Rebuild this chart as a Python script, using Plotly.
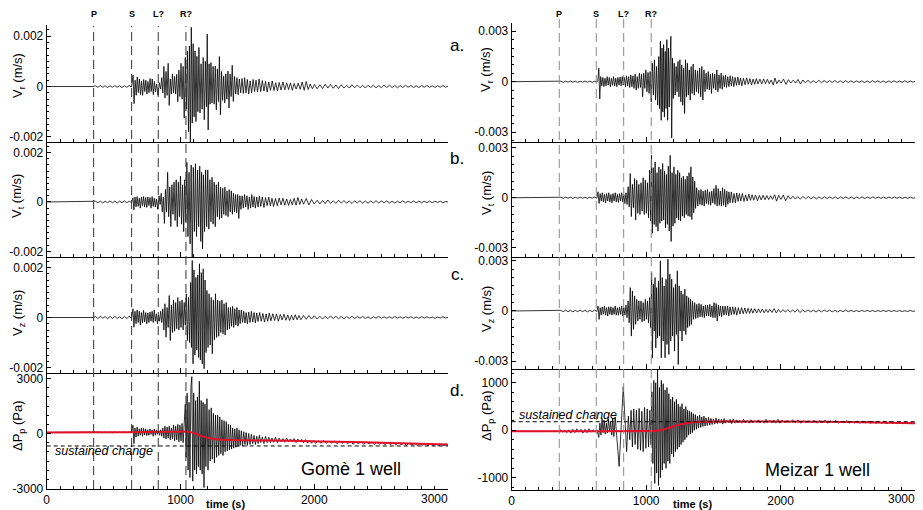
import plotly.graph_objects as go

W, H = 923, 510

# ---------------- data ----------------
# velocity traces in units of 1e-4 m/s, pressure traces in Pa; (time s, value) extrema
PHASE_LABELS = ["P", "S", "L?", "R?"]
GOME_PHASES = [351, 635, 834, 1041]
MEIZAR_PHASES = [354, 629, 833, 1038]

GOME_VR = [(0,0),(350,0),(365,.3),(383,-.3),(401,.4),(419,-.3),(437,.3),(455,-.4),(473,.3),(491,-.3),(509,.4),(527,-.3),(545,.3),(563,-.4),(581,.3),(599,-.3),(617,.4),(634,-.2),
(646,4.5),(653,-6.8),(661,2.5),(669,-3.5),(677,3.8),(685,-2.4),(693,3.0),(701,-3.2),(709,2.2),(717,-3.5),(725,2.8),(733,-2.0),(741,2.5),(749,-3.0),(757,2.0),(765,-2.5),(773,3.2),(781,-2.0),(789,3.0),(797,-3.2),(805,2.0),(813,-2.2),(822,1.0),(832,-3.5),(842,1.5),(852,-1.0),(860,3.5),(868,-2.5),(876,8.0),(884,-4.5),(892,6.0),(900,-3.5),(908,9.2),(916,-7.5),(924,3.0),(932,-3.0),(940,5.0),(948,-2.5),(956,4.0),(964,-3.0),(972,4.8),(980,-6.0),(988,6.5),(996,-4.0),(1004,9.2),(1012,-5.0),(1020,8.0),(1028,-12.5),(1036,11.5),(1044,-9.0),(1052,14.0),(1060,-17.9),(1067,16.1),(1074,-22.0),(1081,23.5),(1088,-14.5),(1095,17.0),(1102,-12.0),(1109,14.1),(1116,-13.9),(1123,12.0),(1130,-10.0),(1138,15.5),(1146,-10.5),(1154,9.0),(1162,-9.0),(1170,11.5),(1178,-13.2),(1186,10.0),(1194,-8.0),(1200,20.8),(1207,-17.2),(1214,9.0),(1221,-7.0),(1228,9.5),(1236,-6.5),(1244,8.0),(1252,-7.0),(1260,8.1),(1268,-9.2),(1276,7.0),(1284,-6.0),(1291,11.9),(1299,-11.2),(1307,6.0),(1315,-5.5),(1323,4.1),(1331,-6.5),(1339,5.0),(1347,-5.0),(1355,6.1),(1363,-8.5),(1371,5.0),(1379,-4.0),(1387,8.4),(1395,-5.9),(1404,4.0),(1413,-3.0),(1422,3.5),(1431,-3.2),(1440,3.0),(1450,-2.5),(1460,3.2),(1470,-2.8),(1480,3.5),(1490,-2.5),(1500,2.8),(1510,-3.0),(1521,2.2),(1532,-2.5),(1543,2.8),(1554,-2.0),(1565,2.5),(1576,-2.2),(1588,3.0),(1600,-2.0),(1612,2.4),(1624,-1.8),(1636,2.0),(1648,-2.2),(1660,1.8),(1673,-1.5),(1686,2.2),(1699,-1.6),(1712,1.5),(1725,-1.8),(1738,1.6),(1752,-1.4),(1766,1.8),(1780,-1.3),(1794,1.5),(1808,-1.2),(1822,1.4),(1836,-1.5),(1850,1.2),(1865,-1.0),(1880,1.3),(1895,-1.1),(1910,1.8),(1925,-1.5),(1940,2.0),(1955,-1.2),(1970,1.0),(1986,-0.9),(2002,0.8),(2022,-0.9),(2042,0.7),(2062,-0.8),(2082,0.9),(2102,-0.6),(2122,0.8),(2142,-0.7),(2162,0.6),(2182,-0.8),(2202,0.7),(2222,-0.6),(2242,0.5),(2262,-0.6),(2282,0.7),(2302,-0.5),(2322,0.6),(2342,-0.5),(2362,0.5),(2382,-0.6),(2402,0.5),(2422,-0.4),(2442,0.5),(2462,-0.5),(2482,0.4),(2502,-0.5),(2522,0.6),(2542,-0.4),(2562,0.5),(2582,-0.4),(2602,0.4),(2622,-0.5),(2642,0.4),(2662,-0.4),(2682,0.5),(2702,-0.3),(2722,0.4),(2742,-0.4),(2762,0.3),(2782,-0.4),(2802,0.4),(2822,-0.3),(2842,0.4),(2862,-0.3),(2882,0.3),(2902,-0.4),(2922,0.3),(2942,-0.3),(2962,0.4),(2982,-0.3),(3000,0.2)]

GOME_VT = [(0,0),(350,0),(365,.3),(383,-.3),(401,.3),(419,-.4),(437,.3),(455,-.3),(473,.4),(491,-.3),(509,.3),(527,-.4),(545,.3),(563,-.3),(581,.4),(599,-.3),(617,.3),(634,-.2),
(645,1.7),(652,-3.2),(660,2.0),(668,-2.0),(676,2.2),(684,-1.8),(692,1.5),(700,-2.5),(708,2.0),(716,-1.5),(724,2.2),(732,-2.0),(740,1.8),(748,-2.2),(756,2.0),(764,-1.5),(772,1.8),(780,-2.5),(788,2.2),(796,-1.8),(804,1.5),(812,-2.0),(820,1.2),(830,-3.0),(840,2.5),(848,-1.0),(856,3.5),(864,-4.0),(872,2.0),(880,-8.7),(888,5.1),(896,-4.0),(904,12.0),(912,-6.0),(920,6.0),(928,-10.0),(936,7.0),(944,-5.0),(952,8.0),(960,-7.5),(968,9.0),(976,-10.0),(984,8.0),(992,-6.0),(1000,10.5),(1008,-9.0),(1016,7.0),(1024,-12.0),(1032,9.0),(1040,-8.0),(1048,16.0),(1056,-14.0),(1064,12.0),(1072,-17.0),(1080,15.0),(1088,-22.6),(1096,14.0),(1104,-12.0),(1112,15.5),(1120,-14.0),(1128,13.0),(1136,-10.0),(1144,14.5),(1152,-16.0),(1158,12.0),(1165,-19.0),(1172,11.0),(1180,-12.0),(1188,13.0),(1196,-10.0),(1204,13.0),(1212,-11.0),(1220,9.0),(1228,-8.0),(1236,10.0),(1244,-9.0),(1252,8.0),(1260,-10.0),(1268,7.0),(1276,-6.0),(1284,8.0),(1292,-7.0),(1300,6.0),(1308,-6.5),(1316,5.5),(1324,-5.0),(1332,6.0),(1340,-5.5),(1348,4.5),(1356,-6.0),(1364,5.0),(1372,-4.0),(1380,4.5),(1388,-5.0),(1396,3.5),(1404,-4.0),(1412,3.0),(1420,-4.5),(1428,3.0),(1436,-6.7),(1444,2.5),(1452,-3.0),(1461,2.5),(1470,-2.5),(1479,3.0),(1488,-2.0),(1497,2.5),(1506,-3.0),(1515,2.0),(1524,-2.5),(1533,3.0),(1542,-2.0),(1551,2.2),(1560,-2.5),(1570,2.0),(1580,-2.0),(1590,2.5),(1600,-1.8),(1612,2.0),(1624,-2.2),(1636,1.8),(1648,-1.5),(1660,2.0),(1672,-1.6),(1684,1.5),(1696,-1.8),(1710,1.4),(1724,-1.5),(1738,1.6),(1752,-1.2),(1766,1.5),(1780,-1.3),(1794,1.2),(1808,-1.4),(1822,1.0),(1836,-1.2),(1850,1.5),(1864,-1.3),(1878,1.8),(1892,-1.0),(1906,1.2),(1920,-0.9),(1940,1.4),(1960,-1.2),(1980,1.0),(2000,-0.8),(2022,0.7),(2042,-0.8),(2062,0.6),(2082,-0.7),(2102,0.8),(2122,-0.6),(2142,0.5),(2162,-0.6),(2182,0.7),(2202,-0.5),(2222,0.6),(2242,-0.5),(2262,0.4),(2282,-0.6),(2302,0.5),(2322,-0.4),(2342,0.5),(2362,-0.5),(2382,0.4),(2402,-0.5),(2422,0.4),(2442,-0.4),(2462,0.5),(2482,-0.4),(2502,0.4),(2522,-0.3),(2542,0.4),(2562,-0.4),(2582,0.3),(2602,-0.4),(2622,0.3),(2642,-0.3),(2662,0.4),(2682,-0.3),(2702,0.3),(2722,-0.3),(2742,0.4),(2762,-0.3),(2782,0.3),(2802,-0.3),(2822,0.3),(2842,-0.3),(2862,0.3),(2882,-0.3),(2902,0.3),(2922,-0.2),(2942,0.3),(2962,-0.3),(2982,0.2),(3000,0)]

GOME_VZ = [(0,0),(350,0),(365,.4),(383,-.4),(401,.5),(419,-.3),(437,.4),(455,-.5),(473,.4),(491,-.4),(509,.5),(527,-.4),(545,.3),(563,-.5),(581,.4),(599,-.4),(617,.5),(634,-.3),
(645,3.5),(652,-3.9),(660,2.5),(668,-2.5),(676,3.0),(684,-2.0),(692,2.5),(700,-3.0),(708,2.0),(716,-2.2),(724,2.8),(732,-1.8),(740,2.0),(748,-2.5),(756,1.8),(764,-2.0),(772,2.2),(780,-1.5),(788,2.5),(796,-2.0),(804,3.0),(812,-1.5),(820,1.5),(828,-2.5),(836,1.0),(844,-1.5),(852,2.5),(860,-2.0),(868,3.5),(876,-5.0),(884,5.5),(892,-7.9),(900,4.0),(908,-4.0),(916,8.8),(924,-9.2),(932,5.0),(940,-6.0),(948,7.0),(956,-5.5),(964,6.0),(972,-4.5),(980,8.0),(988,-5.0),(996,6.5),(1004,-4.0),(1012,7.0),(1020,-5.0),(1028,6.0),(1036,-3.0),(1044,9.5),(1052,-9.2),(1060,8.0),(1068,-10.0),(1076,14.0),(1082,-12.0),(1088,22.8),(1094,-18.5),(1101,19.0),(1108,-15.0),(1115,16.0),(1122,-13.0),(1129,17.0),(1136,-16.0),(1142,21.5),(1149,-17.0),(1156,18.0),(1163,-18.5),(1170,19.5),(1177,-20.5),(1184,15.0),(1191,-14.0),(1198,10.8),(1206,-12.0),(1214,9.5),(1222,-11.0),(1230,8.0),(1238,-14.5),(1246,7.0),(1254,-9.0),(1262,9.5),(1270,-8.0),(1278,7.0),(1286,-7.5),(1294,6.5),(1302,-6.0),(1310,7.0),(1318,-6.5),(1326,5.5),(1334,-7.0),(1342,6.0),(1350,-5.0),(1358,4.0),(1366,-4.5),(1374,4.0),(1382,-3.5),(1390,4.5),(1398,-4.0),(1406,3.5),(1414,-3.0),(1422,4.0),(1430,-3.5),(1438,3.0),(1446,-2.5),(1455,3.0),(1464,-2.0),(1473,2.5),(1482,-2.2),(1491,2.0),(1500,-2.5),(1510,2.2),(1520,-2.0),(1530,2.5),(1540,-1.8),(1550,2.0),(1560,-2.2),(1570,1.8),(1580,-1.6),(1592,2.0),(1604,-1.5),(1616,1.6),(1628,-1.8),(1640,1.4),(1652,-1.5),(1664,1.8),(1676,-1.3),(1690,1.5),(1704,-1.2),(1718,1.4),(1732,-1.5),(1746,1.2),(1760,-1.0),(1774,1.3),(1788,-1.1),(1802,1.0),(1816,-1.2),(1830,0.9),(1844,-1.0),(1858,1.1),(1872,-0.9),(1886,0.8),(1900,-0.9),(1920,0.8),(1940,-0.7),(1960,0.8),(1980,-0.6),(2000,0.7),(2022,-0.6),(2042,0.5),(2062,-0.6),(2082,0.5),(2102,-0.5),(2122,0.6),(2142,-0.4),(2162,0.5),(2182,-0.5),(2202,0.4),(2222,-0.5),(2242,0.4),(2262,-0.4),(2282,0.5),(2302,-0.4),(2322,0.4),(2342,-0.3),(2362,0.4),(2382,-0.4),(2402,0.3),(2422,-0.4),(2442,0.3),(2462,-0.3),(2482,0.4),(2502,-0.3),(2522,0.3),(2542,-0.3),(2562,0.3),(2582,-0.3),(2602,0.4),(2622,-0.3),(2642,0.3),(2662,-0.3),(2682,0.3),(2702,-0.2),(2722,0.3),(2742,-0.3),(2762,0.2),(2782,-0.3),(2802,0.3),(2822,-0.2),(2842,0.3),(2862,-0.2),(2882,0.2),(2902,-0.3),(2922,0.2),(2942,-0.2),(2962,0.3),(2982,-0.2),(3000,0)]

GOME_DP = [(0,60),(350,60),(365,85),(383,45),(401,80),(419,40),(437,85),(455,45),(473,80),(491,40),(509,85),(527,45),(545,80),(563,40),(581,85),(599,45),(617,80),(634,50),
(645,450),(652,-550),(660,300),(668,-200),(676,350),(684,-150),(692,250),(700,-100),(708,300),(716,-150),(724,280),(732,-80),(740,250),(748,-120),(756,200),(764,-100),(772,250),(780,-50),(788,200),(796,-150),(804,250),(812,-100),(820,200),(828,-50),(836,150),(844,-100),(852,200),(860,-150),(868,300),(876,-250),(884,400),(892,-300),(900,350),(908,-250),(916,400),(924,-350),(932,300),(940,-300),(948,450),(956,-400),(964,400),(972,-350),(980,500),(988,-450),(996,450),(1004,-400),(1012,550),(1020,-500),(1028,500),(1036,1600),(1042,-1300),(1050,2200),(1057,-2000),(1064,1700),(1071,-2400),(1078,2500),(1085,3100),(1092,-2600),(1099,2200),(1106,-2000),(1113,1800),(1120,-2200),(1127,2000),(1134,-1800),(1141,2850),(1148,-2000),(1155,1800),(1162,-2200),(1169,1700),(1176,-2950),(1183,1600),(1190,-1800),(1198,1900),(1206,-2000),(1214,1300),(1222,-1500),(1230,1400),(1238,-1400),(1246,1100),(1254,-1600),(1262,1000),(1270,-1300),(1278,1000),(1286,-1200),(1294,900),(1302,-1100),(1310,750),(1318,-1200),(1326,700),(1334,-1000),(1342,650),(1350,-950),(1358,500),(1366,-900),(1374,450),(1382,-850),(1390,300),(1398,-800),(1406,250),(1414,-750),(1422,300),(1430,-700),(1438,200),(1446,-650),(1455,150),(1464,-700),(1473,100),(1482,-600),(1491,50),(1500,-650),(1510,0),(1520,-600),(1530,-50),(1540,-550),(1550,-100),(1560,-600),(1570,-150),(1580,-550),(1590,-100),(1600,-500),(1612,-200),(1624,-550),(1636,-150),(1648,-500),(1660,-200),(1672,-500),(1684,-250),(1696,-480),(1710,-200),(1724,-500),(1738,-250),(1752,-450),(1766,-280),(1780,-480),(1794,-250),(1808,-460),(1822,-300),(1836,-450),(1850,-280),(1864,-500),(1878,-300),(1892,-460),(1906,-320),(1920,-500),(1935,-330),(1950,-520),(1965,-360),(1980,-530),(1995,-380),(2010,-540),(2030,-400),(2050,-520),(2070,-380),(2090,-540),(2110,-410),(2130,-520),(2150,-400),(2170,-560),(2190,-420),(2210,-540),(2230,-430),(2250,-560),(2270,-420),(2290,-580),(2310,-450),(2330,-560),(2350,-440),(2370,-590),(2390,-460),(2410,-570),(2430,-470),(2450,-600),(2470,-460),(2490,-590),(2510,-480),(2530,-610),(2550,-490),(2570,-600),(2590,-500),(2610,-620),(2630,-500),(2650,-610),(2670,-520),(2690,-640),(2710,-520),(2730,-620),(2750,-540),(2770,-650),(2790,-540),(2810,-640),(2830,-560),(2850,-660),(2870,-560),(2890,-650),(2910,-570),(2930,-670),(2950,-580),(2970,-660),(2990,-590),(3000,-610)]

GOME_TREND = [(0,60),(500,70),(900,90),(1050,100),(1090,50),(1130,-60),(1170,-160),(1210,-250),(1260,-310),(1320,-340),(1500,-370),(1800,-400),(2050,-430),(2500,-500),(3000,-600)]
GOME_SUSTAINED = -680

MEIZAR_VR = [(0,0),(350,0),(365,.3),(383,-.4),(401,.3),(419,-.3),(437,.4),(455,-.3),(473,.3),(491,-.4),(509,.3),(527,-.3),(545,.4),(563,-.3),(581,.3),(599,-.4),(617,.3),(634,-.2),
(641,0.5),(648,8.0),(655,-10.3),(662,3.0),(670,-2.5),(678,2.5),(686,-3.0),(694,2.0),(702,-2.5),(710,3.0),(718,-2.0),(726,2.5),(734,-3.0),(742,2.0),(750,-2.2),(758,3.0),(766,-2.5),(774,2.0),(782,-3.0),(790,2.5),(798,-2.0),(806,2.8),(814,-2.5),(822,3.0),(830,-2.0),(838,2.5),(846,-3.0),(854,3.5),(862,-2.5),(870,3.0),(878,-3.5),(886,4.0),(894,-3.0),(902,3.5),(910,-4.0),(918,4.5),(926,-5.0),(934,3.0),(942,-4.0),(950,5.0),(958,-3.5),(966,4.5),(974,-9.0),(982,5.0),(990,-4.0),(998,7.0),(1006,-6.0),(1014,5.5),(1022,-7.0),(1030,6.0),(1038,-12.0),(1046,11.0),(1054,-8.0),(1062,13.0),(1070,-11.0),(1078,9.0),(1086,-14.0),(1094,15.0),(1100,-16.0),(1106,24.0),(1112,-23.0),(1118,20.0),(1124,-18.0),(1130,22.0),(1136,-21.0),(1142,18.0),(1148,-16.0),(1154,25.0),(1160,-23.0),(1166,20.0),(1172,-15.0),(1178,12.0),(1184,27.0),(1190,-33.5),(1196,14.0),(1202,-10.0),(1209,11.0),(1216,-8.0),(1223,9.0),(1230,-6.0),(1237,12.0),(1244,-9.0),(1251,13.0),(1258,-12.0),(1265,10.0),(1272,-14.0),(1279,8.0),(1286,-19.0),(1293,13.0),(1300,-9.0),(1307,11.0),(1314,-8.0),(1321,7.0),(1328,-11.0),(1335,9.0),(1342,-7.0),(1350,10.5),(1358,-8.0),(1366,7.0),(1374,-6.0),(1382,6.5),(1390,-7.0),(1398,8.0),(1406,-9.0),(1414,9.0),(1422,-11.0),(1430,7.0),(1438,-6.0),(1446,5.0),(1454,-4.5),(1462,6.0),(1470,-5.0),(1478,4.5),(1486,-7.0),(1494,5.0),(1502,-4.0),(1510,4.5),(1518,-5.0),(1526,7.0),(1534,-6.0),(1542,4.0),(1550,-4.0),(1558,5.0),(1566,-4.5),(1574,3.5),(1582,-3.0),(1590,4.0),(1598,-3.5),(1607,3.0),(1616,-3.0),(1625,3.5),(1634,-2.5),(1643,3.0),(1652,-3.0),(1662,2.5),(1672,-2.2),(1682,2.8),(1692,-2.0),(1702,2.2),(1712,-2.5),(1724,2.0),(1736,-1.8),(1748,2.2),(1760,-1.6),(1772,1.8),(1784,-2.0),(1796,1.5),(1808,-1.6),(1820,1.8),(1832,-1.4),(1846,1.5),(1860,-1.3),(1874,1.6),(1888,-1.2),(1902,1.4),(1916,-1.2),(1930,1.0),(1946,-2.0),(1958,2.2),(1972,-1.2),(1988,1.0),(2004,-0.9),(2022,1.5),(2040,-1.6),(2058,1.2),(2076,-0.8),(2094,0.9),(2112,-0.8),(2130,1.3),(2148,-1.4),(2166,1.0),(2184,-0.7),(2204,0.8),(2224,-0.7),(2244,0.6),(2264,-0.7),(2284,0.8),(2304,-0.6),(2324,0.7),(2344,-0.6),(2364,0.6),(2384,-0.5),(2404,0.7),(2424,-0.6),(2444,0.5),(2464,-0.6),(2484,0.6),(2504,-0.5),(2524,0.5),(2544,-0.6),(2564,0.5),(2584,-0.4),(2604,0.5),(2624,-0.5),(2644,0.4),(2664,-0.5),(2684,0.6),(2704,-0.4),(2724,0.5),(2744,-0.4),(2764,0.4),(2784,-0.5),(2804,0.4),(2824,-0.4),(2844,0.5),(2864,-0.4),(2884,0.4),(2904,-0.4),(2924,0.5),(2944,-0.4),(2964,0.4),(2984,-0.3),(3000,0.2)]

MEIZAR_VT = [(0,0),(350,0),(365,.3),(383,-.3),(401,.4),(419,-.3),(437,.3),(455,-.4),(473,.3),(491,-.3),(509,.4),(527,-.3),(545,.3),(563,-.4),(581,.3),(599,-.3),(617,.4),(634,-.2),
(642,3.6),(650,-3.4),(658,2.5),(666,-2.0),(674,3.0),(682,-2.5),(690,2.0),(698,-3.0),(706,2.5),(714,-2.0),(722,3.0),(730,-2.5),(738,2.0),(746,-3.0),(754,2.5),(762,-2.0),(770,3.0),(778,-2.5),(786,2.0),(794,-2.8),(802,2.5),(810,-2.0),(818,3.0),(826,-2.5),(834,2.0),(842,-3.5),(850,3.0),(858,-4.0),(866,6.6),(874,-5.4),(882,14.5),(890,-11.3),(898,8.0),(906,-6.0),(914,11.5),(922,-13.3),(930,10.5),(938,-9.3),(946,8.0),(954,-10.0),(962,9.0),(970,-8.0),(978,12.0),(986,-10.0),(994,10.5),(1002,-9.3),(1010,9.0),(1018,-12.0),(1026,16.5),(1034,-14.0),(1040,25.4),(1046,-21.3),(1053,18.0),(1060,-16.0),(1067,21.5),(1074,-17.3),(1081,15.0),(1088,-20.0),(1095,18.5),(1102,-15.3),(1109,17.0),(1116,-14.0),(1123,20.5),(1130,-13.3),(1137,16.0),(1144,-18.0),(1151,14.0),(1158,-16.0),(1165,19.0),(1172,-20.0),(1179,25.4),(1186,-26.2),(1193,15.0),(1200,-17.0),(1207,18.5),(1214,-15.3),(1221,14.0),(1228,-12.0),(1235,16.5),(1242,-13.3),(1249,15.0),(1256,-14.0),(1263,12.0),(1270,-11.0),(1277,13.0),(1284,-12.0),(1291,11.0),(1298,-10.0),(1305,13.0),(1312,-11.0),(1319,15.0),(1326,-11.3),(1333,18.5),(1340,-13.0),(1347,12.5),(1354,-9.0),(1361,10.0),(1368,-6.4),(1376,6.0),(1384,-5.0),(1392,4.5),(1400,-4.0),(1408,5.0),(1416,-4.5),(1424,4.0),(1432,-5.0),(1440,4.5),(1448,-3.5),(1456,5.0),(1464,-4.0),(1472,3.5),(1480,-4.5),(1488,4.0),(1496,-3.0),(1504,5.5),(1512,-4.0),(1520,7.5),(1528,-5.0),(1536,5.5),(1544,-4.5),(1552,4.0),(1560,-5.0),(1568,6.0),(1576,-4.5),(1584,5.0),(1592,-5.5),(1600,4.0),(1608,-4.0),(1616,3.5),(1624,-3.0),(1634,3.5),(1644,-3.0),(1654,2.5),(1664,-3.0),(1674,2.8),(1684,-2.2),(1694,2.5),(1704,-2.0),(1716,2.5),(1728,-2.2),(1740,1.8),(1752,-2.0),(1764,2.2),(1776,-1.6),(1788,1.8),(1800,-1.5),(1814,1.6),(1828,-1.8),(1842,1.4),(1856,-1.3),(1870,1.5),(1884,-1.2),(1898,1.3),(1912,-1.1),(1926,1.2),(1940,-1.0),(1956,1.8),(1970,-2.0),(1986,1.5),(2002,-1.0),(2020,1.6),(2038,-1.8),(2056,1.2),(2074,-0.8),(2092,0.9),(2110,-0.8),(2128,0.7),(2146,-0.8),(2166,0.7),(2186,-0.6),(2206,0.7),(2226,-0.6),(2246,0.6),(2266,-0.7),(2286,0.5),(2306,-0.6),(2326,0.6),(2346,-0.5),(2366,0.6),(2386,-0.5),(2406,0.5),(2426,-0.6),(2446,0.5),(2466,-0.4),(2486,0.5),(2506,-0.5),(2526,0.4),(2546,-0.5),(2566,0.4),(2586,-0.4),(2606,0.5),(2626,-0.4),(2646,0.4),(2666,-0.4),(2686,0.5),(2706,-0.3),(2726,0.4),(2746,-0.4),(2766,0.3),(2786,-0.4),(2806,0.4),(2826,-0.3),(2846,0.4),(2866,-0.3),(2886,0.3),(2906,-0.4),(2926,0.3),(2946,-0.3),(2966,0.3),(2986,-0.3),(3000,0)]

MEIZAR_VZ = [(0,0),(350,0),(365,.4),(383,-.4),(401,.5),(419,-.4),(437,.4),(455,-.5),(473,.4),(491,-.4),(509,.5),(527,-.4),(545,.4),(563,-.5),(581,.4),(599,-.4),(617,.5),(634,-.3),
(642,3.0),(650,-5.0),(658,2.0),(666,-2.5),(674,2.5),(682,-2.0),(690,3.0),(698,-2.5),(706,2.0),(714,-3.0),(722,2.5),(730,-2.0),(738,2.5),(746,-2.5),(754,2.0),(762,-2.0),(770,3.0),(778,-2.5),(786,2.0),(794,-2.5),(802,2.5),(810,-2.0),(818,3.0),(826,-3.0),(834,2.0),(842,-2.5),(850,3.5),(858,-4.0),(866,6.0),(874,-7.0),(882,14.0),(890,-15.0),(898,12.0),(906,-11.0),(914,9.0),(922,-8.0),(930,7.0),(938,-6.0),(946,6.0),(954,-5.0),(962,6.0),(970,-6.5),(978,5.0),(986,-6.0),(994,7.0),(1002,-5.0),(1010,6.0),(1018,-7.0),(1026,8.0),(1034,-10.0),(1041,23.0),(1047,-28.0),(1054,16.0),(1060,-12.0),(1066,20.0),(1072,-22.0),(1078,14.0),(1085,-16.0),(1092,18.0),(1099,-15.0),(1106,30.0),(1113,-28.0),(1120,20.0),(1127,-18.0),(1134,15.0),(1141,-28.0),(1148,19.0),(1155,-20.0),(1162,31.0),(1169,-26.0),(1176,22.0),(1183,-18.0),(1190,19.0),(1197,-15.0),(1204,14.0),(1211,-24.0),(1218,16.0),(1225,-14.0),(1232,24.0),(1239,-32.0),(1246,15.0),(1253,-12.0),(1260,12.0),(1267,-18.0),(1274,10.0),(1281,-12.0),(1288,13.0),(1295,-14.0),(1302,9.0),(1309,-10.0),(1316,8.0),(1323,-9.0),(1330,7.0),(1337,-8.0),(1345,6.0),(1353,-5.0),(1361,5.0),(1369,-4.5),(1377,4.0),(1385,-4.0),(1393,4.5),(1401,-3.5),(1409,4.0),(1417,-3.5),(1425,3.0),(1433,-4.0),(1441,3.5),(1449,-3.0),(1457,3.5),(1465,-3.0),(1473,4.0),(1481,-3.5),(1489,3.0),(1497,-4.0),(1505,5.0),(1513,-4.0),(1521,4.5),(1529,-6.0),(1537,3.5),(1545,-3.0),(1553,3.0),(1561,-3.5),(1570,3.0),(1579,-2.5),(1588,3.0),(1597,-2.5),(1606,3.0),(1615,-3.0),(1624,2.5),(1634,-2.2),(1644,2.5),(1654,-2.0),(1664,2.2),(1674,-2.5),(1686,2.0),(1698,-1.8),(1710,2.0),(1722,-1.6),(1734,1.8),(1746,-1.5),(1758,1.6),(1770,-1.4),(1782,1.5),(1794,-1.3),(1808,1.4),(1822,-1.2),(1836,1.3),(1850,-1.0),(1864,1.2),(1878,-1.1),(1892,1.0),(1906,-0.9),(1920,1.0),(1936,-0.9),(1952,1.4),(1968,-1.2),(1984,0.9),(2000,-0.8),(2018,0.8),(2036,-0.7),(2054,0.8),(2072,-0.7),(2090,0.6),(2108,-0.7),(2126,1.0),(2144,-0.9),(2164,0.6),(2184,-0.5),(2204,0.6),(2224,-0.5),(2244,0.5),(2264,-0.6),(2284,0.5),(2304,-0.5),(2324,0.6),(2344,-0.4),(2364,0.5),(2384,-0.5),(2404,0.4),(2424,-0.5),(2444,0.4),(2464,-0.4),(2484,0.5),(2504,-0.4),(2524,0.4),(2544,-0.4),(2564,0.3),(2584,-0.4),(2604,0.4),(2624,-0.3),(2644,0.4),(2664,-0.3),(2684,0.3),(2704,-0.4),(2724,0.3),(2744,-0.3),(2764,0.4),(2784,-0.3),(2804,0.3),(2824,-0.3),(2844,0.3),(2864,-0.3),(2884,0.3),(2904,-0.3),(2924,0.2),(2944,-0.3),(2964,0.3),(2984,-0.2),(3000,0)]

MEIZAR_DP = [(0,-20),(350,-20),(365,10),(380,-40),(395,0),(410,-50),(425,10),(440,-60),(455,20),(470,-50),(485,30),(500,-40),(515,20),(530,-60),(545,20),(560,-50),(575,30),(590,-40),(605,10),(620,-30),(635,0),
(648,-150),(656,150),(664,-100),(672,250),(680,-50),(688,200),(696,-80),(704,150),(712,-60),(720,230),(728,-30),(736,180),(744,-100),(752,260),(760,-130),(770,280),(799,-760),(830,920),(855,-450),(868,300),(878,-200),(888,420),(898,-350),(908,450),(918,-300),(928,430),(938,-400),(948,460),(958,-420),(968,400),(978,-450),(988,480),(998,-380),(1008,450),(1018,-350),(1028,420),(1036,-300),(1043,810),(1050,-700),(1057,1050),(1064,-1120),(1071,1000),(1078,-900),(1085,1300),(1092,-1160),(1099,900),(1106,-1000),(1113,1050),(1120,-840),(1127,980),(1134,-700),(1141,850),(1148,-800),(1155,900),(1162,-650),(1169,770),(1176,-700),(1183,650),(1190,-500),(1197,700),(1204,-560),(1211,600),(1218,-450),(1225,650),(1232,-400),(1239,550),(1246,-350),(1253,500),(1260,-300),(1267,560),(1274,-250),(1281,450),(1288,-200),(1295,500),(1302,-150),(1309,420),(1316,-100),(1323,400),(1330,-80),(1337,380),(1344,-50),(1351,350),(1358,0),(1366,330),(1374,20),(1382,300),(1390,50),(1398,320),(1406,60),(1414,280),(1422,80),(1430,300),(1438,90),(1446,260),(1455,100),(1464,270),(1473,110),(1482,250),(1491,120),(1500,240),(1510,130),(1520,260),(1530,140),(1540,240),(1550,150),(1560,230),(1570,130),(1580,250),(1590,150),(1600,220),(1612,160),(1624,230),(1636,140),(1648,240),(1660,150),(1672,220),(1684,160),(1696,210),(1710,150),(1724,230),(1738,160),(1752,210),(1766,150),(1780,220),(1794,160),(1808,200),(1822,170),(1836,220),(1850,160),(1864,200),(1878,150),(1892,230),(1906,160),(1920,210),(1935,165),(1950,215),(1965,150),(1980,230),(1995,150),(2010,210),(2030,165),(2050,200),(2070,170),(2090,215),(2110,160),(2130,220),(2150,150),(2170,200),(2190,165),(2210,195),(2230,160),(2250,210),(2270,150),(2290,200),(2310,160),(2330,215),(2350,150),(2370,195),(2390,160),(2410,205),(2430,150),(2450,190),(2470,160),(2490,200),(2510,150),(2530,185),(2550,155),(2570,195),(2590,150),(2610,185),(2630,155),(2650,190),(2670,150),(2690,185),(2710,145),(2730,180),(2750,150),(2770,175),(2790,140),(2810,180),(2830,145),(2850,170),(2870,140),(2890,175),(2910,135),(2930,170),(2950,140),(2970,165),(2990,140),(3000,150)]

MEIZAR_TREND = [(0,-20),(500,-20),(1000,-15),(1080,-10),(1120,10),(1160,40),(1200,80),(1250,120),(1300,150),(1350,170),(1400,180),(1600,185),(2000,185),(2500,175),(3000,150)]
MEIZAR_SUSTAINED = 180

VEL_SCALE = 1e-4  # the velocity lists are in units of 1e-4 m/s

# tick labels
L_VEL_TICKS = [-0.002, 0, 0.002]; L_VEL_TEXT = ["-0.002", "0", "0.002"]
R_VEL_TICKS = [-0.003, 0, 0.003]; R_VEL_TEXT = ["-0.003", "0", "0.003"]
L_P_TICKS = [-3000, 0, 3000]; L_P_TEXT = ["-3000", "0", "3000"]
R_P_TICKS = [-1000, 0, 1000]; R_P_TEXT = ["-1000", "0", "1000"]
X_TICKS = [0, 1000, 2000, 3000]

# ---------------- layout geometry (pixels) ----------------
FONT = "Liberation Sans, Arial, Helvetica, sans-serif"
LX = (46.7, 448.0)
RX = (511.7, 915.0)

def xp(p): return p / W
def yp(p): return 1 - p / H

# (x px range, y px top, y px bottom, yrange, tickvals, ticktext, minor dtick, ytitle, title y px, title x px)
panels = [
    (LX, 25, 142, [-0.0022, 0.00244], L_VEL_TICKS, L_VEL_TEXT, 0.00025, "V<sub>r</sub> (m/s)", 76, 18),
    (LX, 142, 257, [-0.00223, 0.00243], L_VEL_TICKS, L_VEL_TEXT, 0.00025, "V<sub>t</sub> (m/s)", 196, 18),
    (LX, 257, 373, [-0.00222, 0.00242], L_VEL_TICKS, L_VEL_TEXT, 0.00025, "V<sub>z</sub> (m/s)", 313, 18),
    (LX, 373, 489, [-3027, 3300], L_P_TICKS, L_P_TEXT, 500, "ΔP<sub>p</sub> (Pa)", 426, 18),
    (RX, 23, 142, [-0.00359, 0.00349], R_VEL_TICKS, R_VEL_TEXT, 0.0005, "V<sub>r</sub> (m/s)", 70, 487),
    (RX, 142, 257, [-0.00355, 0.00334], R_VEL_TICKS, R_VEL_TEXT, 0.0005, "V<sub>t</sub> (m/s)", 193, 487),
    (RX, 257, 369, [-0.00347, 0.00323], R_VEL_TICKS, R_VEL_TEXT, 0.0005, "V<sub>z</sub> (m/s)", 309, 487),
    (RX, 369, 490, [-1257, 1290], R_P_TICKS, R_P_TEXT, 200, "ΔP<sub>p</sub> (Pa)", 416, 487),
]

series = [(GOME_VR, VEL_SCALE), (GOME_VT, VEL_SCALE), (GOME_VZ, VEL_SCALE), (GOME_DP, 1),
          (MEIZAR_VR, VEL_SCALE), (MEIZAR_VT, VEL_SCALE), (MEIZAR_VZ, VEL_SCALE), (MEIZAR_DP, 1)]

fig = go.Figure()
layout = {}
annotations = []

def axname(i, kind):
    return kind if i == 1 else f"{kind}{i}"

for i, (pan, (data, sc)) in enumerate(zip(panels, series), start=1):
    (xr, ytop, ybot, yr, tv, tt, mdt, title, ty, tx) = pan
    xa, ya = axname(i, "x"), axname(i, "y")
    fig.add_trace(go.Scatter(x=[p[0] for p in data], y=[p[1] * sc for p in data],
                             xaxis=xa, yaxis=ya, mode="lines",
                             line=dict(color="black", width=0.8),
                             hoverinfo="skip", showlegend=False))
    is_bottom = i in (4, 8)
    # the last label (3000) sits left of its tick, as in the original: drawn as annotation
    layout[axname(i, "xaxis")] = dict(
        domain=[xp(xr[0]), xp(xr[1])], range=[0, 3000], anchor=ya, automargin=False,
        showline=True, linecolor="black", linewidth=1, showgrid=False, zeroline=False,
        ticks="inside", tickvals=X_TICKS, ticktext=[str(v) if v < 3000 else "" for v in X_TICKS],
        ticklen=5, tickcolor="black", tickwidth=1,
        minor=dict(ticks="inside", tickmode="linear", tick0=0, dtick=100, ticklen=3,
                   tickcolor="black", tickwidth=1),
        showticklabels=is_bottom, tickfont=dict(family=FONT, size=12, color="black"),
        fixedrange=True)
    if is_bottom:
        annotations.append(dict(text=str(X_TICKS[-1]), x=X_TICKS[-1], xref=xa,
                                y=yp(499), yref="paper", xanchor="right", yanchor="middle",
                                xshift=2, showarrow=False,
                                font=dict(family=FONT, size=12, color="black")))
    layout[axname(i, "yaxis")] = dict(
        domain=[yp(ybot), yp(ytop)], range=yr, anchor=xa, automargin=False,
        showline=True, linecolor="black", linewidth=1, showgrid=False, zeroline=False,
        ticks="inside", tickvals=tv, ticktext=tt, ticklen=4, tickcolor="black", tickwidth=1,
        minor=dict(ticks="inside", tickmode="linear", tick0=0, dtick=mdt, ticklen=2,
                   tickcolor="black", tickwidth=1),
        tickfont=dict(family=FONT, size=12, color="black"), fixedrange=True)
    annotations.append(dict(text=title, x=xp(tx), y=yp(ty), xref="paper", yref="paper",
                            textangle=-90, showarrow=False, xanchor="center", yanchor="middle",
                            font=dict(family=FONT, size=13, color="black")))

# smoothed trends (red)
for i, data in ((4, GOME_TREND), (8, MEIZAR_TREND)):
    fig.add_trace(go.Scatter(x=[p[0] for p in data], y=[p[1] for p in data],
                             xaxis=axname(i, "x"), yaxis=axname(i, "y"), mode="lines",
                             line=dict(color="#e3102b", width=2, shape="spline"),
                             hoverinfo="skip", showlegend=False))

shapes = []
# phase arrival lines and labels
for phases, xa, top, bot, col in ((GOME_PHASES, "x", 26, 489, "#333333"),
                                  (MEIZAR_PHASES, "x5", 19, 490, "#8a8a8a")):
    for t, lab in zip(phases, PHASE_LABELS):
        shapes.append(dict(type="line", xref=xa, yref="paper", x0=t, x1=t,
                           y0=yp(bot), y1=yp(top),
                           line=dict(color=col, width=1, dash="9px,5px")))
        annotations.append(dict(text=f"<b>{lab}</b>", x=t, y=yp(14), xref=xa, yref="paper",
                                showarrow=False, xanchor="center", yanchor="middle",
                                font=dict(family=FONT, size=9, color="black")))

# sustained change dashed lines
for xa, ya, val in (("x4", "y4", GOME_SUSTAINED), ("x8", "y8", MEIZAR_SUSTAINED)):
    shapes.append(dict(type="line", xref=xa, yref=ya, x0=0, x1=3000, y0=val, y1=val,
                       line=dict(color="black", width=1, dash="4px,3px")))

def ann(text, xpx, ypx, size, **kw):
    annotations.append(dict(text=text, x=xp(xpx), y=yp(ypx), xref="paper", yref="paper",
                            showarrow=False, xanchor="center", yanchor="middle",
                            font=dict(family=FONT, size=size, color="black"), **kw))

ann("<i>sustained change</i>", 104, 451, 12.5)
ann("<i>sustained change</i>", 568, 415, 12.5)
ann("Gomè 1 well", 351, 469, 18)
ann("Meizar 1 well", 817, 470, 18)
ann("<b>time (s)</b>", 225, 504, 11)
ann("<b>time (s)</b>", 692, 504, 11)
for lab, ypx in (("a.", 45), ("b.", 158), ("c.", 274), ("d.", 390)):
    ann(lab, 457, ypx, 17)

fig.update_layout(width=W, height=H, margin=dict(l=0, r=0, t=0, b=0, autoexpand=False),
                  paper_bgcolor="white", plot_bgcolor="white",
                  shapes=shapes, annotations=annotations, showlegend=False,
                  font=dict(family=FONT), **layout)

fig.write_html("out.html", config={"displayModeBar": False},
               post_script="document.body.style.margin='0';document.body.style.overflow='hidden';")
